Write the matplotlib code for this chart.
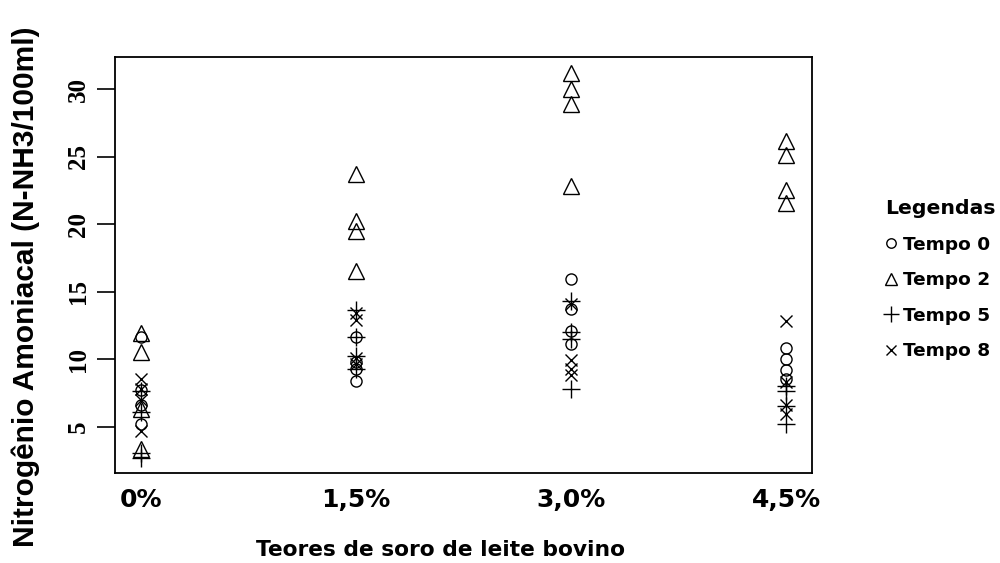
import matplotlib
matplotlib.use("Agg")
import matplotlib.pyplot as plt
import numpy as np

# teores de soro (posições 1..4)
teores = ["0%", "1,5%", "3,0%", "4,5%"]

# N-NH3 (mg/100ml), 4 valores por teor
tempo0 = [[11.6, 7.7, 6.6, 5.2],
          [11.6, 9.8, 9.3, 8.4],
          [15.9, 13.7, 12.1, 11.1],
          [10.8, 10.0, 9.2, 8.5]]
tempo2 = [[11.9, 10.5, 6.3, 3.3],
          [23.7, 20.2, 19.5, 16.5],
          [31.2, 30.0, 28.9, 22.8],
          [26.2, 25.1, 22.5, 21.6]]
tempo5 = [[7.6, 6.1, 3.0, 2.7],
          [13.6, 11.6, 10.2, 9.3],
          [14.3, 12.0, 11.5, 7.8],
          [8.0, 7.6, 6.5, 5.2]]
tempo8 = [[8.5, 7.0, 4.7, 7.8],
          [13.4, 12.9, 10.1, 9.6],
          [14.1, 9.9, 9.3, 8.8],
          [12.8, 8.3, 6.6, 5.9]]

series = [("Tempo 0", tempo0, "o", 8),
          ("Tempo 2", tempo2, "^", 11),
          ("Tempo 5", tempo5, "+", 13),
          ("Tempo 8", tempo8, "x", 9)]

fig = plt.figure(figsize=(10, 5.63), dpi=100)
ax = fig.add_axes([0.115, 0.160, 0.697, 0.739])

handles = []
for nome, vals, mk, ms in series:
    xs = []
    ys = []
    for i, grupo in enumerate(vals):
        for v in grupo:
            xs.append(i + 1)
            ys.append(v)
    h, = ax.plot(xs, ys, linestyle="none", marker=mk, markersize=ms,
                 markerfacecolor="none", markeredgecolor="black",
                 markeredgewidth=1.0, label=nome)
    handles.append(h)

ax.set_xlim(0.88, 4.12)
ax.set_ylim(1.56, 32.4)

ax.set_xticks([1, 2, 3, 4])
ax.set_xticklabels(teores, fontfamily="DejaVu Sans", fontweight="bold", fontsize=18)
ax.tick_params(axis="x", length=0, pad=11)

ax.set_yticks([5, 10, 15, 20, 25, 30])
ax.set_yticklabels([str(t) for t in [5, 10, 15, 20, 25, 30]],
                   rotation=90, va="center",
                   fontfamily="Liberation Serif", fontweight="bold", fontsize=18)
ax.tick_params(axis="y", length=13, width=1.2, pad=5)

for s in ax.spines.values():
    s.set_linewidth(1.3)

fig.text(0.44, 0.006, "Teores de soro de leite bovino", ha="center", va="bottom",
         fontfamily="DejaVu Sans", fontweight="bold", fontsize=15.7)
fig.text(0.026, 0.49, "Nitrogênio Amoniacal (N-NH3/100ml)", rotation=90,
         ha="center", va="center", fontfamily="Liberation Sans",
         fontweight="bold", fontsize=21.5)

leg = fig.legend(handles=handles, loc="upper left",
                 bbox_to_anchor=(0.876, 0.663), frameon=False,
                 title="Legendas", handlelength=0.6, handletextpad=0.35,
                 labelspacing=0.95, borderpad=0,
                 prop={"family": "DejaVu Sans", "weight": "bold", "size": 13.3},
                 title_fontproperties={"family": "DejaVu Sans", "weight": "bold",
                                       "size": 14.7})
leg._legend_box.align = "left"
for lh in leg.legend_handles:
    lh.set_markersize(lh.get_markersize() * 0.85)

fig.savefig("out.png", dpi=100)
